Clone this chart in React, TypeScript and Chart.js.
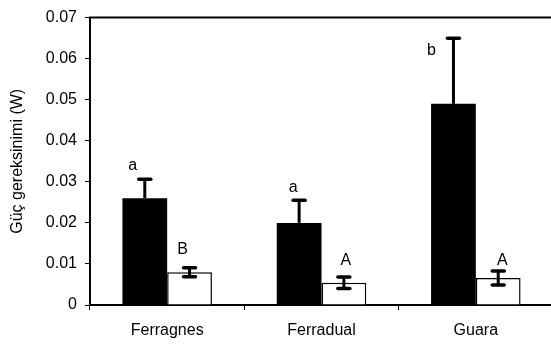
import React, { useEffect, useRef } from "react";
import { Chart, registerables } from "chart.js";

Chart.register(...registerables);

const categories = ["Ferragnes", "Ferradual", "Guara"];
const blackValues = [0.026, 0.02, 0.049];
const blackErrors = [0.0046, 0.0055, 0.016];
const whiteValues = [0.008, 0.0054, 0.0066];
const whiteErrors = [0.0011, 0.0014, 0.0017];
const blackLetters = ["a", "a", "b"];
const whiteLetters = ["B", "A", "A"];
const blackLetterY = [0.034, 0.0287, 0.0619];
const whiteLetterY = [0.0134, 0.0108, 0.0108];
const yTicks = [0, 0.01, 0.02, 0.03, 0.04, 0.05, 0.06, 0.07];
const yTitle = "Güç gereksinimi (W)";

const FONT = "'Liberation Sans', Arial, sans-serif";
const blackLetterDx = [-12, -6, -22];
const whiteLetterDx = [-7, 2, 4];

const extrasPlugin = {
  id: "extras",
  afterDatasetsDraw(chart: any) {
    const { ctx, chartArea, scales } = chart;
    const y = scales.y;
    ctx.save();
    ctx.strokeStyle = "#000";
    ctx.lineWidth = 2;
    ctx.beginPath();
    ctx.moveTo(chartArea.left - 1, chartArea.top);
    ctx.lineTo(chart.width, chartArea.top);
    ctx.stroke();

    const drawErr = (x: number, v: number, e: number, both: boolean) => {
      const yt = y.getPixelForValue(v + e);
      const yb = both ? y.getPixelForValue(v - e) : y.getPixelForValue(v);
      ctx.lineWidth = 3;
      ctx.lineCap = "butt";
      ctx.beginPath();
      ctx.moveTo(x, yt);
      ctx.lineTo(x, yb);
      ctx.stroke();
      ctx.lineCap = "round";
      ctx.lineWidth = 3.5;
      ctx.beginPath();
      ctx.moveTo(x - 6, yt);
      ctx.lineTo(x + 6, yt);
      ctx.stroke();
      if (both) {
        ctx.beginPath();
        ctx.moveTo(x - 6, yb);
        ctx.lineTo(x + 6, yb);
        ctx.stroke();
      }
    };
    const m0 = chart.getDatasetMeta(0);
    const m1 = chart.getDatasetMeta(1);
    ctx.fillStyle = "#000";
    ctx.font = `16px ${FONT}`;
    ctx.textAlign = "center";
    ctx.textBaseline = "middle";
    m0.data.forEach((bar: any, i: number) => {
      drawErr(bar.x, blackValues[i], blackErrors[i], false);
      ctx.fillText(blackLetters[i], bar.x + blackLetterDx[i], y.getPixelForValue(blackLetterY[i]));
    });
    m1.data.forEach((bar: any, i: number) => {
      drawErr(bar.x, whiteValues[i], whiteErrors[i], true);
      ctx.fillText(whiteLetters[i], bar.x + whiteLetterDx[i], y.getPixelForValue(whiteLetterY[i]));
    });
    ctx.restore();
  },
};

export default function App() {
  const ref = useRef<HTMLCanvasElement>(null);
  useEffect(() => {
    if (!ref.current) return;
    Chart.defaults.color = "#000";
    const chart = new Chart(ref.current, {
      type: "bar",
      data: {
        labels: categories,
        datasets: [
          {
            data: blackValues,
            backgroundColor: "#000",
            borderWidth: 0,
            categoryPercentage: 0.58,
            barPercentage: 1,
          },
          {
            data: whiteValues,
            backgroundColor: "#fff",
            borderColor: "#000",
            borderWidth: 1.5,
            categoryPercentage: 0.58,
            barPercentage: 1,
          },
        ],
      },
      options: {
        animation: false,
        responsive: false,
        maintainAspectRatio: false,
        events: [],
        layout: { padding: { top: 12, right: 9, left: 0, bottom: 0 } },
        plugins: { legend: { display: false }, tooltip: { enabled: false } },
        scales: {
          x: {
            offset: true,
            border: { display: true, color: "#000", width: 2 },
            grid: {
              offset: true,
              drawOnChartArea: false,
              drawTicks: true,
              tickLength: 5,
              tickColor: "#000",
              tickWidth: 1,
            },
            ticks: { font: { family: FONT, size: 16 }, color: "#000", padding: 11, maxRotation: 0 },
            afterFit: (s: any) => {
              s.height = 39;
            },
          },
          y: {
            min: 0,
            max: 0.07,
            afterBuildTicks: (s: any) => {
              s.ticks = yTicks.map((v) => ({ value: v }));
            },
            border: { display: true, color: "#000", width: 2 },
            grid: {
              drawOnChartArea: false,
              drawTicks: true,
              tickLength: 5,
              tickColor: "#000",
              tickWidth: 1,
            },
            ticks: {
              font: { family: FONT, size: 16 },
              color: "#000",
              padding: 8,
              callback: (v: any) => (Number(v) === 0 ? "0" : Number(v).toFixed(2)),
            },
            title: {
              display: true,
              text: yTitle,
              font: { family: FONT, size: 16 },
              color: "#000",
              padding: { top: 8, bottom: 0 },
            },
            afterFit: (s: any) => {
              s.width = 90;
            },
          },
        },
      },
      plugins: [extrasPlugin],
    });
    return () => chart.destroy();
  }, []);
  return (
    <div
      style={{
        position: "fixed",
        left: 0,
        top: 0,
        width: 551,
        height: 344,
        overflow: "hidden",
        background: "#fff",
      }}
    >
      <canvas ref={ref} width={562} height={344} style={{ display: "block", width: 562, height: 344 }} />
    </div>
  );
}
